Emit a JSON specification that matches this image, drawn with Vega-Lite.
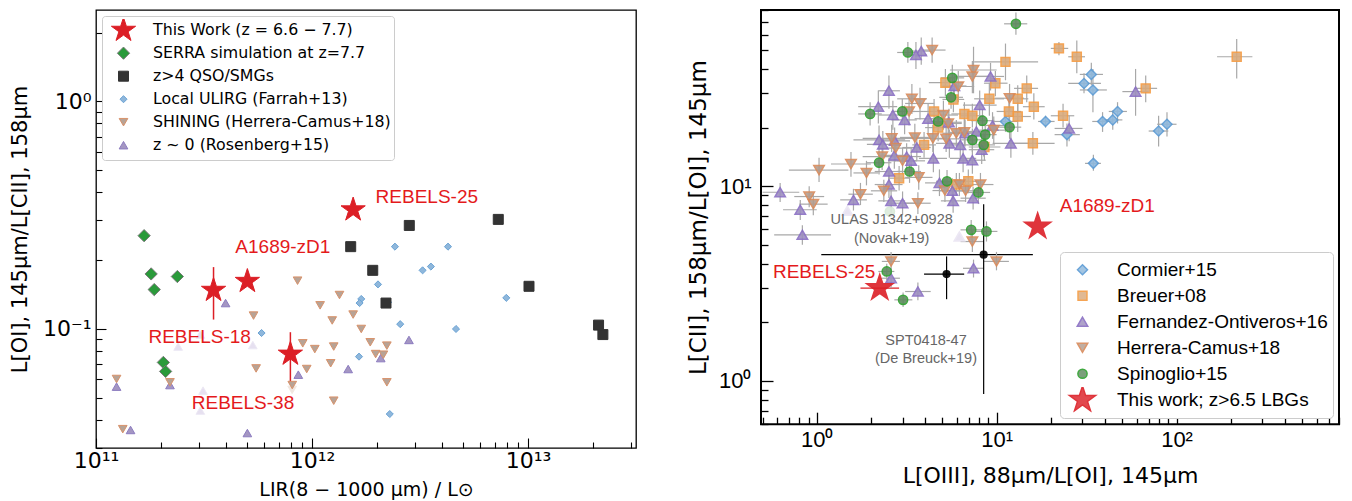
{
  "$schema": "https://vega.github.io/schema/vega-lite/v6.json",
  "padding": {"left": 8, "top": 3, "right": 0, "bottom": 0},
  "background": "white",
  "spacing": 49,
  "datasets": {
    "left": [
      {"x": 3.04e11, "y": 0.0945, "s": "fR"},
      {"x": 2.40e11, "y": 0.0837, "s": "fR"},
      {"x": 5.32e11, "y": 0.085, "s": "fR"},
      {"x": 3.13e11, "y": 0.0536, "s": "fR"},
      {"x": 3.04e11, "y": 0.0438, "s": "fR"},
      {"x": 8.09e11, "y": 0.054, "s": "fH"},
      {"x": 3.98e11, "y": 0.130, "s": "R"},
      {"x": 2.81e12, "y": 0.0895, "s": "R"},
      {"x": 2.08e12, "y": 0.0745, "s": "R"},
      {"x": 1.47e12, "y": 0.0667, "s": "R"},
      {"x": 8.64e11, "y": 0.063, "s": "R"},
      {"x": 1.245e11, "y": 0.0558, "s": "R"},
      {"x": 2.2e11, "y": 0.0567, "s": "R"},
      {"x": 1.445e11, "y": 0.036, "s": "R"},
      {"x": 5.02e11, "y": 0.0349, "s": "R"},
      {"x": 8.57e11, "y": 0.163, "s": "H"},
      {"x": 1.34e12, "y": 0.141, "s": "H"},
      {"x": 1.09e12, "y": 0.127, "s": "H"},
      {"x": 5.36e11, "y": 0.1145, "s": "H"},
      {"x": 1.24e12, "y": 0.109, "s": "H"},
      {"x": 1.55e12, "y": 0.1157, "s": "H"},
      {"x": 1.69e12, "y": 0.100, "s": "H"},
      {"x": 9.06e11, "y": 0.0865, "s": "H"},
      {"x": 1.03e12, "y": 0.0816, "s": "H"},
      {"x": 1.26e12, "y": 0.0837, "s": "H"},
      {"x": 1.86e12, "y": 0.0874, "s": "H"},
      {"x": 2.22e12, "y": 0.0845, "s": "H"},
      {"x": 1.97e12, "y": 0.0776, "s": "H"},
      {"x": 2.14e12, "y": 0.0771, "s": "H"},
      {"x": 5.51e11, "y": 0.0671, "s": "H"},
      {"x": 9.45e11, "y": 0.0667, "s": "H"},
      {"x": 1.22e12, "y": 0.0707, "s": "H"},
      {"x": 2.22e12, "y": 0.0583, "s": "H"},
      {"x": 8.1e11, "y": 0.0567, "s": "H"},
      {"x": 1.245e11, "y": 0.0603, "s": "H"},
      {"x": 2.2e11, "y": 0.0583, "s": "H"},
      {"x": 1.26e12, "y": 0.0484, "s": "H"},
      {"x": 1.33e11, "y": 0.0363, "s": "H"},
      {"x": 2.42e12, "y": 0.230, "s": "U"},
      {"x": 4.26e12, "y": 0.230, "s": "U"},
      {"x": 3.25e12, "y": 0.181, "s": "U"},
      {"x": 3.55e12, "y": 0.188, "s": "U"},
      {"x": 2.02e12, "y": 0.157, "s": "U"},
      {"x": 7.93e12, "y": 0.137, "s": "U"},
      {"x": 1.69e12, "y": 0.1355, "s": "U"},
      {"x": 1.66e12, "y": 0.130, "s": "U"},
      {"x": 2.25e12, "y": 0.131, "s": "U"},
      {"x": 2.56e12, "y": 0.105, "s": "U"},
      {"x": 4.64e12, "y": 0.100, "s": "U"},
      {"x": 5.84e11, "y": 0.096, "s": "U"},
      {"x": 1.65e12, "y": 0.0756, "s": "U"},
      {"x": 2.29e12, "y": 0.0423, "s": "U"},
      {"x": 2.82e12, "y": 0.285, "s": "Q"},
      {"x": 7.28e12, "y": 0.303, "s": "Q"},
      {"x": 1.51e12, "y": 0.230, "s": "Q"},
      {"x": 1.91e12, "y": 0.181, "s": "Q"},
      {"x": 1.01e13, "y": 0.154, "s": "Q"},
      {"x": 2.20e12, "y": 0.130, "s": "Q"},
      {"x": 2.12e13, "y": 0.104, "s": "Q"},
      {"x": 2.22e13, "y": 0.0945, "s": "Q"},
      {"x": 1.67e11, "y": 0.257, "s": "S"},
      {"x": 1.80e11, "y": 0.1745, "s": "S"},
      {"x": 2.38e11, "y": 0.170, "s": "S"},
      {"x": 1.86e11, "y": 0.149, "s": "S"},
      {"x": 2.05e11, "y": 0.0713, "s": "S"},
      {"x": 2.10e11, "y": 0.0651, "s": "S"},
      {"x": 1.55e12, "y": 0.334, "s": "T"},
      {"x": 3.5e11, "y": 0.148, "y1": 0.110, "y2": 0.187, "s": "T"},
      {"x": 5.02e11, "y": 0.162, "s": "T"},
      {"x": 7.94e11, "y": 0.0776, "y1": 0.0573, "y2": 0.0968, "s": "T"}
    ],
    "leftlab": [
      {"x": 3.40e12, "y": 0.379, "t": "REBELS-25"},
      {"x": 7.33e11, "y": 0.2297, "t": "A1689-zD1"},
      {"x": 3.02e11, "y": 0.0919, "t": "REBELS-18"},
      {"x": 4.79e11, "y": 0.0471, "t": "REBELS-38"}
    ],
    "right": [
      {"x": 1.48, "y": 7.48, "r": "fF"},
      {"x": 6.21, "y": 5.52, "r": "fF"},
      {"x": 2.55, "y": 7.41, "r": "fG"},
      {"x": 33.6, "y": 37.5, "x1": 29, "x2": 39, "y1": 33, "y2": 43, "r": "C"},
      {"x": 30.6, "y": 33.7, "x1": 25, "x2": 38, "y1": 30, "y2": 38, "r": "C"},
      {"x": 34.3, "y": 31.2, "x1": 29, "x2": 41, "y1": 24, "y2": 40, "r": "C"},
      {"x": 47.0, "y": 24.2, "x1": 42, "x2": 53, "y1": 21, "y2": 27, "r": "C"},
      {"x": 38.8, "y": 21.5, "x1": 34, "x2": 44, "y1": 19, "y2": 24, "r": "C"},
      {"x": 44.2, "y": 21.9, "x1": 39, "x2": 50, "y1": 19.5, "y2": 24.5, "r": "C"},
      {"x": 18.7, "y": 21.5, "x1": 17, "x2": 21, "y1": 20, "y2": 23, "r": "C"},
      {"x": 11.2, "y": 21.5, "x1": 9.5, "x2": 13, "y1": 19, "y2": 24, "r": "C"},
      {"x": 88.5, "y": 20.8, "x1": 78, "x2": 100, "y1": 18, "y2": 24, "r": "C"},
      {"x": 79.5, "y": 19.2, "x1": 70, "x2": 90, "y1": 16, "y2": 23, "r": "C"},
      {"x": 24.6, "y": 18.4, "x1": 21, "x2": 29, "y1": 16, "y2": 21, "r": "C"},
      {"x": 34.5, "y": 13.1, "x1": 31, "x2": 38, "y1": 12, "y2": 14.5, "r": "C"},
      {"x": 22.2, "y": 51.0, "x1": 20, "x2": 25, "y1": 47, "y2": 55, "r": "B"},
      {"x": 27.9, "y": 46.2, "x1": 25, "x2": 31, "y1": 38, "y2": 56, "r": "B"},
      {"x": 216, "y": 46.2, "x1": 168, "x2": 264, "y1": 35.7, "y2": 57, "r": "B"},
      {"x": 11.2, "y": 43.5, "x1": 7.5, "x2": 17, "y1": 35, "y2": 54, "r": "B"},
      {"x": 5.19, "y": 34.0, "x1": 4.2, "x2": 6.5, "y1": 29, "y2": 40, "r": "B"},
      {"x": 9.84, "y": 33.8, "x1": 8.5, "x2": 11.5, "y1": 29, "y2": 39, "r": "B"},
      {"x": 14.7, "y": 31.8, "x1": 12.5, "x2": 17, "y1": 27, "y2": 37, "r": "B"},
      {"x": 67.4, "y": 31.8, "x1": 58, "x2": 78, "y1": 27, "y2": 37, "r": "B"},
      {"x": 9.11, "y": 28.1, "x1": 7.5, "x2": 11, "y1": 23, "y2": 34, "r": "B"},
      {"x": 13.1, "y": 28.1, "x1": 11.5, "x2": 15, "y1": 24, "y2": 33, "r": "B"},
      {"x": 5.75, "y": 27.9, "x1": 5, "x2": 6.6, "y1": 24, "y2": 32, "r": "B"},
      {"x": 16.1, "y": 25.6, "x1": 14, "x2": 18.5, "y1": 22, "y2": 30, "r": "B"},
      {"x": 4.49, "y": 24.2, "x1": 3.9, "x2": 5.2, "y1": 21, "y2": 28, "r": "B"},
      {"x": 11.7, "y": 24.2, "x1": 10, "x2": 13.7, "y1": 21, "y2": 28, "r": "B"},
      {"x": 6.62, "y": 23.5, "x1": 5.6, "x2": 7.8, "y1": 20, "y2": 27, "r": "B"},
      {"x": 7.33, "y": 23.0, "x1": 6.3, "x2": 8.5, "y1": 20, "y2": 26.5, "r": "B"},
      {"x": 13.1, "y": 22.8, "x1": 11, "x2": 15.5, "y1": 19, "y2": 27, "r": "B"},
      {"x": 23.4, "y": 23.0, "x1": 20, "x2": 27, "y1": 20, "y2": 26.5, "r": "B"},
      {"x": 4.73, "y": 20.0, "x1": 4, "x2": 5.6, "y1": 17, "y2": 23.5, "r": "B"},
      {"x": 15.9, "y": 16.6, "x1": 12, "x2": 21, "y1": 14.5, "y2": 19, "r": "B"},
      {"x": 8.55, "y": 15.9, "x1": 7, "x2": 10.5, "y1": 13.5, "y2": 18.5, "r": "B"},
      {"x": 3.95, "y": 16.3, "x1": 3.4, "x2": 4.6, "y1": 14, "y2": 19, "r": "B"},
      {"x": 2.87, "y": 11.0, "x1": 2.5, "x2": 3.3, "y1": 9.5, "y2": 12.7, "r": "B"},
      {"x": 6.96, "y": 10.6, "x1": 6, "x2": 8, "y1": 9.2, "y2": 12.2, "r": "B"},
      {"x": 5.97, "y": 10.2, "x1": 5.2, "x2": 6.9, "y1": 8.9, "y2": 11.7, "r": "B"},
      {"x": 3.81, "y": 49.4, "x1": 3.3, "x2": 4.4, "y1": 42, "y2": 58, "r": "F"},
      {"x": 3.56, "y": 47.2, "x1": 3.1, "x2": 4.1, "y1": 40, "y2": 55, "r": "F"},
      {"x": 9.25, "y": 36.6, "x1": 7.8, "x2": 11, "y1": 31, "y2": 43, "r": "F"},
      {"x": 5.82, "y": 32.7, "x1": 5, "x2": 6.8, "y1": 28, "y2": 38, "r": "F"},
      {"x": 2.52, "y": 30.9, "x1": 2.2, "x2": 2.9, "y1": 25, "y2": 37, "r": "F"},
      {"x": 59.2, "y": 30.6, "x1": 50, "x2": 70, "y1": 23, "y2": 40, "r": "F"},
      {"x": 2.2, "y": 25.6, "x1": 1.7, "x2": 2.8, "y1": 21, "y2": 31, "r": "F"},
      {"x": 8.05, "y": 26.1, "x1": 6.5, "x2": 10, "y1": 22, "y2": 31, "r": "F"},
      {"x": 2.65, "y": 23.2, "x1": 2.2, "x2": 3.2, "y1": 19.5, "y2": 27.5, "r": "F"},
      {"x": 3.08, "y": 21.9, "x1": 2.6, "x2": 3.6, "y1": 18.5, "y2": 26, "r": "F"},
      {"x": 4.16, "y": 22.2, "x1": 3.5, "x2": 5, "y1": 18.5, "y2": 26.5, "r": "F"},
      {"x": 5.43, "y": 21.3, "x1": 4.6, "x2": 6.4, "y1": 18, "y2": 25, "r": "F"},
      {"x": 9.49, "y": 20.5, "x1": 8, "x2": 11.3, "y1": 17.5, "y2": 24, "r": "F"},
      {"x": 25.3, "y": 19.8, "x1": 21, "x2": 30, "y1": 17, "y2": 23, "r": "F"},
      {"x": 6.68, "y": 18.7, "x1": 5.6, "x2": 8, "y1": 16, "y2": 22, "r": "F"},
      {"x": 7.72, "y": 19.1, "x1": 6.5, "x2": 9.2, "y1": 16.5, "y2": 22, "r": "F"},
      {"x": 2.22, "y": 17.3, "x1": 1.6, "x2": 3.1, "y1": 14.5, "y2": 20.5, "r": "F"},
      {"x": 2.71, "y": 17.1, "x1": 2.2, "x2": 3.3, "y1": 14.5, "y2": 20, "r": "F"},
      {"x": 12.0, "y": 16.6, "x1": 9.5, "x2": 15, "y1": 14, "y2": 19.5, "r": "F"},
      {"x": 2.33, "y": 16.4, "x1": 1.9, "x2": 2.9, "y1": 14, "y2": 19.2, "r": "F"},
      {"x": 3.6, "y": 15.8, "x1": 3, "x2": 4.3, "y1": 13.5, "y2": 18.5, "r": "F"},
      {"x": 5.46, "y": 16.6, "x1": 4.6, "x2": 6.5, "y1": 14, "y2": 19.5, "r": "F"},
      {"x": 6.28, "y": 16.3, "x1": 5.3, "x2": 7.4, "y1": 14, "y2": 19, "r": "F"},
      {"x": 8.26, "y": 15.4, "x1": 7, "x2": 9.7, "y1": 13, "y2": 18, "r": "F"},
      {"x": 2.7, "y": 14.4, "x1": 2.2, "x2": 3.3, "y1": 12.3, "y2": 16.8, "r": "F"},
      {"x": 3.16, "y": 14.2, "x1": 2.6, "x2": 3.8, "y1": 12, "y2": 16.6, "r": "F"},
      {"x": 4.45, "y": 13.9, "x1": 3.7, "x2": 5.3, "y1": 11.8, "y2": 16.3, "r": "F"},
      {"x": 3.35, "y": 13.5, "x1": 2.8, "x2": 4, "y1": 11.5, "y2": 15.8, "r": "F"},
      {"x": 6.51, "y": 13.9, "x1": 5.5, "x2": 7.7, "y1": 11.8, "y2": 16.3, "r": "F"},
      {"x": 7.33, "y": 13.6, "x1": 6.2, "x2": 8.7, "y1": 11.6, "y2": 16, "r": "F"},
      {"x": 2.52, "y": 11.9, "x1": 2.1, "x2": 3, "y1": 10, "y2": 14, "r": "F"},
      {"x": 4.81, "y": 10.4, "x1": 4, "x2": 5.8, "y1": 8.9, "y2": 12.2, "r": "F"},
      {"x": 2.52, "y": 10.2, "x1": 2.1, "x2": 3, "y1": 8.7, "y2": 12, "r": "F"},
      {"x": 0.626, "y": 9.31, "x1": 0.5, "x2": 0.8, "y1": 8.3, "y2": 10.4, "r": "F"},
      {"x": 5.67, "y": 9.47, "x1": 4.8, "x2": 6.7, "y1": 8.2, "y2": 11, "r": "F"},
      {"x": 1.6, "y": 8.51, "x1": 1.35, "x2": 1.9, "y1": 7.5, "y2": 9.7, "r": "F"},
      {"x": 2.59, "y": 8.41, "x1": 2.2, "x2": 3.1, "y1": 7.3, "y2": 9.7, "r": "F"},
      {"x": 5.73, "y": 8.41, "x1": 4.9, "x2": 6.7, "y1": 7.3, "y2": 9.7, "r": "F"},
      {"x": 7.4, "y": 8.68, "x1": 6.3, "x2": 8.7, "y1": 7.6, "y2": 9.9, "r": "F"},
      {"x": 3.0, "y": 8.18, "x1": 2.5, "x2": 3.6, "y1": 7.1, "y2": 9.4, "r": "F"},
      {"x": 0.81, "y": 7.57, "x1": 0.65, "x2": 1.0, "y1": 6.7, "y2": 8.5, "r": "F"},
      {"x": 0.832, "y": 5.63, "x1": 0.58, "x2": 1.2, "y1": 5.0, "y2": 6.3, "r": "F"},
      {"x": 2.59, "y": 3.37, "x1": 2.3, "x2": 2.9, "y1": 3.0, "y2": 3.8, "r": "F"},
      {"x": 3.65, "y": 2.88, "x1": 3.1, "x2": 4.3, "y1": 2.6, "y2": 3.2, "r": "F"},
      {"x": 7.44, "y": 3.79, "x1": 6.5, "x2": 8.5, "y1": 3.4, "y2": 4.2, "r": "F"},
      {"x": 4.38, "y": 50.0, "x1": 3.7, "x2": 5.2, "y1": 43, "y2": 58, "r": "H"},
      {"x": 7.44, "y": 39.5, "x1": 5.5, "x2": 10, "y1": 30, "y2": 52, "r": "H"},
      {"x": 7.33, "y": 36.6, "x1": 5.8, "x2": 9.3, "y1": 30, "y2": 44, "r": "H"},
      {"x": 6.12, "y": 32.5, "x1": 5, "x2": 7.5, "y1": 27, "y2": 39, "r": "H"},
      {"x": 3.38, "y": 28.1, "x1": 2.8, "x2": 4.1, "y1": 23.5, "y2": 33.5, "r": "H"},
      {"x": 3.75, "y": 26.6, "x1": 3.1, "x2": 4.5, "y1": 22, "y2": 32, "r": "H"},
      {"x": 11.8, "y": 28.3, "x1": 9.8, "x2": 14.2, "y1": 24, "y2": 33.5, "r": "H"},
      {"x": 3.26, "y": 24.2, "x1": 2.7, "x2": 3.9, "y1": 20.5, "y2": 28.5, "r": "H"},
      {"x": 5.06, "y": 23.2, "x1": 4.2, "x2": 6.1, "y1": 19.5, "y2": 27.5, "r": "H"},
      {"x": 5.38, "y": 21.0, "x1": 4.5, "x2": 6.4, "y1": 18, "y2": 24.5, "r": "H"},
      {"x": 9.64, "y": 19.4, "x1": 8, "x2": 11.6, "y1": 16.5, "y2": 22.8, "r": "H"},
      {"x": 2.61, "y": 17.6, "x1": 1.8, "x2": 3.8, "y1": 15, "y2": 20.7, "r": "H"},
      {"x": 3.51, "y": 17.8, "x1": 2.9, "x2": 4.2, "y1": 15.2, "y2": 20.9, "r": "H"},
      {"x": 5.24, "y": 17.5, "x1": 4.4, "x2": 6.2, "y1": 15, "y2": 20.5, "r": "H"},
      {"x": 5.97, "y": 18.7, "x1": 5, "x2": 7.1, "y1": 16, "y2": 21.9, "r": "H"},
      {"x": 6.62, "y": 18.9, "x1": 5.5, "x2": 8, "y1": 16.1, "y2": 22.2, "r": "H"},
      {"x": 2.75, "y": 15.7, "x1": 2.2, "x2": 3.4, "y1": 13.4, "y2": 18.4, "r": "H"},
      {"x": 4.42, "y": 17.6, "x1": 3.7, "x2": 5.3, "y1": 15, "y2": 20.7, "r": "H"},
      {"x": 2.31, "y": 14.2, "x1": 1.8, "x2": 3, "y1": 12.1, "y2": 16.6, "r": "H"},
      {"x": 3.0, "y": 13.5, "x1": 2.5, "x2": 3.6, "y1": 11.5, "y2": 15.8, "r": "H"},
      {"x": 1.03, "y": 12.1, "x1": 0.7, "x2": 1.5, "y1": 10.5, "y2": 14, "r": "H"},
      {"x": 1.55, "y": 13.0, "x1": 1.2, "x2": 2, "y1": 11.2, "y2": 15, "r": "H"},
      {"x": 1.89, "y": 11.7, "x1": 1.6, "x2": 2.2, "y1": 10.1, "y2": 13.5, "r": "H"},
      {"x": 3.69, "y": 11.1, "x1": 3.1, "x2": 4.4, "y1": 9.6, "y2": 12.8, "r": "H"},
      {"x": 5.16, "y": 9.5, "x1": 4.4, "x2": 6, "y1": 8.3, "y2": 10.9, "r": "H"},
      {"x": 6.21, "y": 10.2, "x1": 5.3, "x2": 7.3, "y1": 8.9, "y2": 11.7, "r": "H"},
      {"x": 6.72, "y": 9.47, "x1": 5.7, "x2": 7.9, "y1": 8.3, "y2": 10.8, "r": "H"},
      {"x": 8.13, "y": 10.2, "x1": 6.9, "x2": 9.6, "y1": 8.9, "y2": 11.7, "r": "H"},
      {"x": 2.36, "y": 9.47, "x1": 2, "x2": 2.8, "y1": 8.3, "y2": 10.8, "r": "H"},
      {"x": 1.75, "y": 9.1, "x1": 1.5, "x2": 2.05, "y1": 8, "y2": 10.4, "r": "H"},
      {"x": 0.908, "y": 8.85, "x1": 0.75, "x2": 1.1, "y1": 7.8, "y2": 10, "r": "H"},
      {"x": 0.957, "y": 8.09, "x1": 0.8, "x2": 1.15, "y1": 7.1, "y2": 9.2, "r": "H"},
      {"x": 3.65, "y": 8.18, "x1": 3.1, "x2": 4.3, "y1": 7.2, "y2": 9.3, "r": "H"},
      {"x": 7.33, "y": 5.2, "x1": 6.3, "x2": 8.5, "y1": 4.6, "y2": 5.9, "r": "H"},
      {"x": 2.59, "y": 4.11, "x1": 2.3, "x2": 2.9, "y1": 3.7, "y2": 4.6, "r": "H"},
      {"x": 9.98, "y": 4.11, "x1": 8.5, "x2": 11.7, "y1": 3.7, "y2": 4.6, "r": "H"},
      {"x": 12.8, "y": 68.2, "x1": 11, "x2": 14.8, "y1": 60, "y2": 78, "r": "G"},
      {"x": 3.21, "y": 48.6, "x1": 2.8, "x2": 3.7, "y1": 43, "y2": 55, "r": "G"},
      {"x": 5.67, "y": 36.0, "x1": 4.9, "x2": 6.6, "y1": 31, "y2": 42, "r": "G"},
      {"x": 5.58, "y": 28.6, "x1": 4.8, "x2": 6.5, "y1": 25, "y2": 33, "r": "G"},
      {"x": 1.98, "y": 23.5, "x1": 1.7, "x2": 2.3, "y1": 20.5, "y2": 27, "r": "G"},
      {"x": 2.99, "y": 24.2, "x1": 2.6, "x2": 3.5, "y1": 21, "y2": 28, "r": "G"},
      {"x": 4.73, "y": 21.5, "x1": 4.1, "x2": 5.4, "y1": 18.8, "y2": 24.6, "r": "G"},
      {"x": 8.34, "y": 21.7, "x1": 7.2, "x2": 9.7, "y1": 19, "y2": 24.8, "r": "G"},
      {"x": 11.8, "y": 20.1, "x1": 10.2, "x2": 13.7, "y1": 17.5, "y2": 23, "r": "G"},
      {"x": 8.64, "y": 18.4, "x1": 7.5, "x2": 10, "y1": 16, "y2": 21, "r": "G"},
      {"x": 7.33, "y": 17.3, "x1": 6.3, "x2": 8.5, "y1": 15, "y2": 19.8, "r": "G"},
      {"x": 8.47, "y": 16.3, "x1": 7.3, "x2": 9.8, "y1": 14.2, "y2": 18.7, "r": "G"},
      {"x": 2.22, "y": 13.2, "x1": 1.9, "x2": 2.6, "y1": 11.5, "y2": 15.1, "r": "G"},
      {"x": 3.28, "y": 11.9, "x1": 2.8, "x2": 3.8, "y1": 10.4, "y2": 13.6, "r": "G"},
      {"x": 5.3, "y": 10.6, "x1": 4.6, "x2": 6.1, "y1": 9.3, "y2": 12.1, "r": "G"},
      {"x": 7.92, "y": 9.29, "x1": 6.8, "x2": 9.2, "y1": 8.1, "y2": 10.6, "r": "G"},
      {"x": 7.22, "y": 5.97, "x1": 6.3, "x2": 8.3, "y1": 5.3, "y2": 6.7, "r": "G"},
      {"x": 8.78, "y": 5.86, "x1": 7.6, "x2": 10.1, "y1": 5.2, "y2": 6.6, "r": "G"},
      {"x": 2.45, "y": 3.65, "x1": 2.2, "x2": 2.7, "y1": 3.3, "y2": 4.0, "r": "G"},
      {"x": 3.02, "y": 2.61, "x1": 2.7, "x2": 3.4, "y1": 2.4, "y2": 2.85, "r": "G"},
      {"x": 8.47, "y": 4.45, "x1": 1.06, "x2": 15.9, "y1": 0.857, "y2": 8.09, "r": "K"},
      {"x": 5.27, "y": 3.54, "x1": 3.95, "x2": 6.6, "y1": 2.63, "y2": 4.36, "r": "K"},
      {"x": 16.9, "y": 6.21, "r": "T"},
      {"x": 2.24, "y": 3.0, "x1": 1.75, "x2": 2.87, "r": "T"}
    ],
    "rightlab": [
      {"x": 41.2, "y": 7.87, "t": "A1689-zD1", "k": "r"},
      {"x": 1.10, "y": 3.62, "t": "REBELS-25", "k": "r"},
      {"x": 2.61, "y": 6.73, "t": "ULAS J1342+0928", "k": "g"},
      {"x": 2.61, "y": 5.37, "t": "(Novak+19)", "k": "g"},
      {"x": 4.05, "y": 1.60, "t": "SPT0418-47", "k": "g"},
      {"x": 4.05, "y": 1.30, "t": "(De Breuck+19)", "k": "g"}
    ]
  },
  "hconcat": [
    {
      "width": 540,
      "height": 438,
      "view": {"stroke": "black", "strokeWidth": 1.3},
      "layer": [
        {
          "data": {"name": "left"},
          "transform": [{"filter": "isValid(datum.y1)"}],
          "mark": {"type": "rule", "color": "#dc1f26", "strokeWidth": 1.5},
          "encoding": {
            "x": {"field": "x", "type": "quantitative", "scale": {"type": "log", "domain": [1e11, 3.16e13], "nice": false}},
            "y": {"field": "y1", "type": "quantitative", "scale": {"type": "log", "domain": [0.03, 2.52], "nice": false}},
            "y2": {"field": "y2"}
          }
        },
        {
          "data": {"name": "left"},
          "mark": {"type": "point", "filled": true, "opacity": 1, "strokeWidth": 1},
          "encoding": {
            "x": {
              "field": "x", "type": "quantitative",
              "scale": {"type": "log", "domain": [1e11, 3.16e13], "nice": false},
              "axis": {
                "values": [1e11, 2e11, 3e11, 4e11, 5e11, 6e11, 7e11, 8e11, 9e11, 1e12, 2e12, 3e12, 4e12, 5e12, 6e12, 7e12, 8e12, 9e12, 1e13, 2e13, 3e13],
                "labelExpr": "datum.value == 1e11 ? '10¹¹' : datum.value == 1e12 ? '10¹²' : datum.value == 1e13 ? '10¹³' : ''",
                "tickSize": {"condition": {"test": "datum.value == 1e11 || datum.value == 1e12 || datum.value == 1e13", "value": -10}, "value": -6},
                "labelPadding": 12,
                "labelFont": "DejaVu Sans", "labelFontSize": 22,
                "title": "LIR(8 − 1000 μm) / L⊙",
                "titleFont": "DejaVu Sans", "titleFontSize": 19, "titleFontWeight": "normal", "titlePadding": 5
              }
            },
            "y": {
              "field": "y", "type": "quantitative",
              "scale": {"type": "log", "domain": [0.03, 2.52], "nice": false},
              "axis": {
                "values": [0.03, 0.04, 0.05, 0.06, 0.07, 0.08, 0.09, 0.1, 0.2, 0.3, 0.4, 0.5, 0.6, 0.7, 0.8, 0.9, 1, 2],
                "labelExpr": "datum.value == 1 ? '10⁰' : datum.value == 0.1 ? '10⁻¹' : ''",
                "tickSize": {"condition": {"test": "datum.value == 1 || datum.value == 0.1", "value": -10}, "value": -6},
                "labelPadding": 15,
                "labelFont": "DejaVu Sans", "labelFontSize": 22,
                "title": "L[OI], 145μm/L[CII], 158μm",
                "titleFont": "DejaVu Sans", "titleFontSize": 21, "titleFontWeight": "normal", "titlePadding": 12
              }
            },
            "fill": {
              "field": "s", "type": "nominal",
              "scale": {"domain": ["T", "S", "Q", "U", "H", "R", "fR", "fH"], "range": ["#dc1f26", "#2a9a3a", "#333333", "#8fb7db", "#b7a396", "#a496c2", "#e6e0f0", "#efe6e0"]},
              "legend": {
                "title": null, "orient": "top-left", "offset": 6,
                "values": ["T", "S", "Q", "U", "H", "R"],
                "labelExpr": "datum.label == 'T' ? 'This Work (z = 6.6 − 7.7)' : datum.label == 'S' ? 'SERRA simulation at z=7.7' : datum.label == 'Q' ? 'z>4 QSO/SMGs' : datum.label == 'U' ? 'Local ULIRG (Farrah+13)' : datum.label == 'H' ? 'SHINING (Herrera-Camus+18)' : 'z ∼ 0 (Rosenberg+15)'",
                "labelFont": "DejaVu Sans", "labelFontSize": 15.8, "labelLimit": 400, "labelColor": "black",
                "fillColor": "white", "strokeColor": "#cccccc", "cornerRadius": 3, "padding": 3,
                "rowPadding": 0, "clipHeight": 22.4, "labelOffset": 16, "symbolOffset": 5, "symbolStrokeWidth": 1
              }
            },
            "stroke": {
              "field": "s", "type": "nominal",
              "scale": {"domain": ["T", "S", "Q", "U", "H", "R", "fR", "fH"], "range": ["#dc1f26", "#777777", "#333333", "#6aa3d5", "#d9926a", "#8c7cc0", "#ece8f4", "#f2e9e2"]}
            },
            "shape": {
              "field": "s", "type": "nominal",
              "scale": {"domain": ["T", "S", "Q", "U", "H", "R", "fR", "fH"], "range": ["M0,-1L0.2245,-0.309L0.951,-0.309L0.363,0.118L0.588,0.809L0,0.382L-0.588,0.809L-0.363,0.118L-0.951,-0.309L-0.2245,-0.309Z", "diamond", "square", "diamond", "triangle-down", "triangle-up", "triangle-up", "triangle-down"]}
            },
            "size": {
              "field": "s", "type": "nominal",
              "scale": {"type": "ordinal", "domain": ["T", "S", "Q", "U", "H", "R", "fR", "fH"], "range": [650, 150, 100, 50, 75, 75, 75, 75]}
            }
          }
        },
        {
          "data": {"name": "leftlab"},
          "mark": {"type": "text", "font": "Liberation Sans", "fontSize": 19, "color": "#e41a1c", "align": "center", "baseline": "middle"},
          "encoding": {
            "x": {"field": "x", "type": "quantitative", "scale": {"type": "log", "domain": [1e11, 3.16e13], "nice": false}},
            "y": {"field": "y", "type": "quantitative", "scale": {"type": "log", "domain": [0.03, 2.52], "nice": false}},
            "text": {"field": "t"}
          }
        }
      ]
    },
    {
      "width": 578,
      "height": 414.2,
      "view": {"stroke": "black", "strokeWidth": 2},
      "layer": [
        {
          "data": {"name": "right"},
          "transform": [{"filter": "isValid(datum.x1)"}],
          "mark": {"type": "rule", "strokeWidth": 1.2},
          "encoding": {
            "x": {"field": "x1", "type": "quantitative", "scale": {"type": "log", "domain": [0.49, 800], "nice": false}},
            "x2": {"field": "x2"},
            "y": {"field": "y", "type": "quantitative", "scale": {"type": "log", "domain": [0.6, 80.3], "nice": false}},
            "color": {"field": "r", "type": "nominal", "legend": null, "scale": {"domain": ["C", "B", "F", "H", "G", "T", "K"], "range": ["#a8a8a8", "#a8a8a8", "#a8a8a8", "#a8a8a8", "#a8a8a8", "#dc1f26", "#000000"]}}
          }
        },
        {
          "data": {"name": "right"},
          "transform": [{"filter": "isValid(datum.y1)"}],
          "mark": {"type": "rule", "strokeWidth": 1.2},
          "encoding": {
            "x": {"field": "x", "type": "quantitative", "scale": {"type": "log", "domain": [0.49, 800], "nice": false}},
            "y": {"field": "y1", "type": "quantitative", "scale": {"type": "log", "domain": [0.6, 80.3], "nice": false}},
            "y2": {"field": "y2"},
            "color": {"field": "r", "type": "nominal", "legend": null, "scale": {"domain": ["C", "B", "F", "H", "G", "T", "K"], "range": ["#a8a8a8", "#a8a8a8", "#a8a8a8", "#a8a8a8", "#a8a8a8", "#dc1f26", "#000000"]}}
          }
        },
        {
          "data": {"name": "right"},
          "mark": {"type": "point", "filled": true, "opacity": 0.9, "strokeWidth": 1.5},
          "encoding": {
            "x": {
              "field": "x", "type": "quantitative",
              "scale": {"type": "log", "domain": [0.49, 800], "nice": false},
              "axis": {
                "values": [0.5, 0.6, 0.7, 0.8, 0.9, 1, 2, 3, 4, 5, 6, 7, 8, 9, 10, 20, 30, 40, 50, 60, 70, 80, 90, 100, 200, 300, 400, 500, 600, 700, 800],
                "labelExpr": "datum.value == 1 ? '10⁰' : datum.value == 10 ? '10¹' : datum.value == 100 ? '10²' : ''",
                "tickSize": {"condition": {"test": "datum.value == 1 || datum.value == 10 || datum.value == 100", "value": -12}, "value": -7},
                "tickWidth": 1.3,
                "labelPadding": 17,
                "labelFont": "Liberation Sans", "labelFontSize": 22,
                "title": "L[OIII], 88μm/L[OI], 145μm",
                "titleFont": "DejaVu Sans", "titleFontSize": 22, "titleFontWeight": "normal", "titlePadding": 10
              }
            },
            "y": {
              "field": "y", "type": "quantitative",
              "scale": {"type": "log", "domain": [0.6, 80.3], "nice": false},
              "axis": {
                "values": [0.6, 0.7, 0.8, 0.9, 1, 2, 3, 4, 5, 6, 7, 8, 9, 10, 20, 30, 40, 50, 60, 70, 80],
                "labelExpr": "datum.value == 1 ? '10⁰' : datum.value == 10 ? '10¹' : ''",
                "labelFontSize": {"condition": {"test": "datum.value == 80", "value": 11.3}, "value": 22},
                "tickSize": {"condition": {"test": "datum.value == 1 || datum.value == 10", "value": -12}, "value": -7},
                "tickWidth": 1.3,
                "labelPadding": 22,
                "labelFont": "Liberation Sans",
                "title": "L[CII], 158μm/L[OI], 145μm",
                "titleFont": "DejaVu Sans", "titleFontSize": 23, "titleFontWeight": "normal", "titlePadding": 8
              }
            },
            "fill": {
              "field": "r", "type": "nominal",
              "scale": {"domain": ["C", "B", "F", "H", "G", "T", "K", "fF", "fG"], "range": ["#8fb8dc", "#d9aa7c", "#9d8fbf", "#b39c8e", "#5e8a5e", "#dc1f26", "#000000", "#e6e0f0", "#dcebdc"]},
              "legend": {
                "title": null, "orient": "bottom-right", "offset": 6,
                "values": ["C", "B", "F", "H", "G", "T"],
                "labelExpr": "datum.label == 'C' ? 'Cormier+15' : datum.label == 'B' ? 'Breuer+08' : datum.label == 'F' ? 'Fernandez-Ontiveros+16' : datum.label == 'H' ? 'Herrera-Camus+18' : datum.label == 'G' ? 'Spinoglio+15' : 'This work; z>6.5 LBGs'",
                "labelFont": "Liberation Sans", "labelFontSize": 19, "labelLimit": 400, "labelColor": "black",
                "fillColor": "white", "strokeColor": "#cccccc", "cornerRadius": 4, "padding": 5,
                "rowPadding": 0, "clipHeight": 25.5, "labelOffset": 20, "symbolOffset": 3, "symbolStrokeWidth": 1.5
              }
            },
            "stroke": {
              "field": "r", "type": "nominal",
              "scale": {"domain": ["C", "B", "F", "H", "G", "T", "K", "fF", "fG"], "range": ["#5b9bd5", "#f59b42", "#8a6fc4", "#d98a5a", "#2ca02c", "#dc1f26", "#000000", "#ebe6f3", "#d5ead5"]}
            },
            "shape": {
              "field": "r", "type": "nominal",
              "scale": {"domain": ["C", "B", "F", "H", "G", "T", "K", "fF", "fG"], "range": ["diamond", "square", "triangle-up", "triangle-down", "circle", "M0,-1L0.2245,-0.309L0.951,-0.309L0.363,0.118L0.588,0.809L0,0.382L-0.588,0.809L-0.363,0.118L-0.951,-0.309L-0.2245,-0.309Z", "circle", "triangle-up", "circle"]}
            },
            "size": {
              "field": "r", "type": "nominal",
              "scale": {"type": "ordinal", "domain": ["C", "B", "F", "H", "G", "T", "K", "fF", "fG"], "range": [100, 80, 110, 110, 85, 750, 45, 110, 85]}
            }
          }
        },
        {
          "data": {"name": "rightlab"},
          "transform": [{"filter": "datum.k == 'r'"}],
          "mark": {"type": "text", "font": "Liberation Sans", "fontSize": 19, "color": "#e41a1c", "align": "center", "baseline": "middle"},
          "encoding": {
            "x": {"field": "x", "type": "quantitative", "scale": {"type": "log", "domain": [0.49, 800], "nice": false}},
            "y": {"field": "y", "type": "quantitative", "scale": {"type": "log", "domain": [0.6, 80.3], "nice": false}},
            "text": {"field": "t"}
          }
        },
        {
          "data": {"name": "rightlab"},
          "transform": [{"filter": "datum.k == 'g'"}],
          "mark": {"type": "text", "font": "Liberation Sans", "fontSize": 14.5, "color": "#666666", "align": "center", "baseline": "middle"},
          "encoding": {
            "x": {"field": "x", "type": "quantitative", "scale": {"type": "log", "domain": [0.49, 800], "nice": false}},
            "y": {"field": "y", "type": "quantitative", "scale": {"type": "log", "domain": [0.6, 80.3], "nice": false}},
            "text": {"field": "t"}
          }
        }
      ]
    }
  ],
  "resolve": {
    "scale": {"fill": "independent", "stroke": "independent", "shape": "independent", "size": "independent", "color": "independent"},
    "legend": {"fill": "independent", "stroke": "independent", "shape": "independent", "size": "independent"}
  },
  "config": {
    "axis": {"grid": false, "domain": false, "tickColor": "black", "labelColor": "black", "titleColor": "black", "labelFlush": false, "labelOverlap": false, "labelBound": false, "tickWidth": 1.1}
  }
}
